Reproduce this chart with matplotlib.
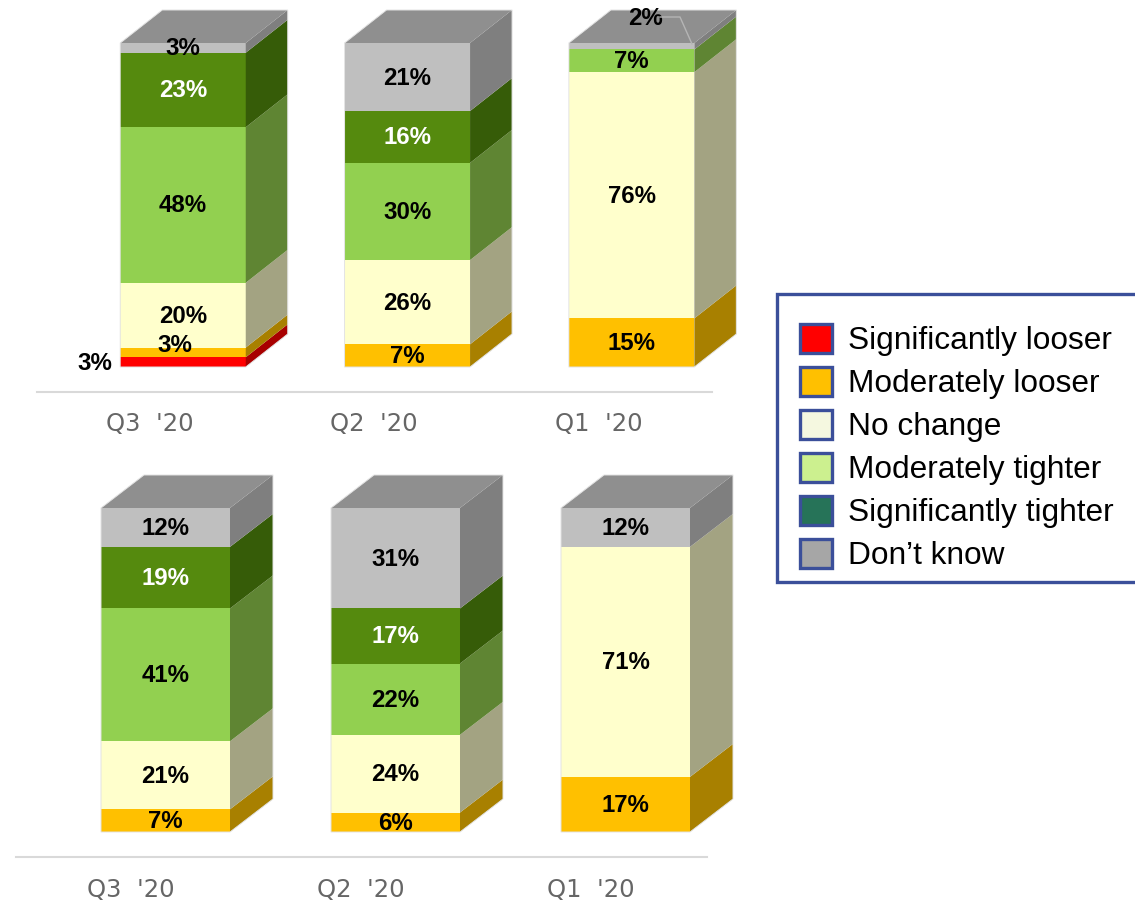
import matplotlib
matplotlib.use('Agg')
import matplotlib.pyplot as plt
from matplotlib.patches import Patch, Rectangle
from matplotlib.lines import Line2D

W, H = 1135, 902

quarters = ["Q3  '20", "Q2  '20", "Q1  '20"]
segments = ['Significantly looser', 'Moderately looser', 'No change',
            'Moderately tighter', 'Significantly tighter', "Don\u2019t know"]

# values bottom to top, one list per bar
top_q3 = [3, 3, 20, 48, 23, 3]
top_q2 = [0, 7, 26, 30, 16, 21]
top_q1 = [0, 15, 76, 7, 0, 2]
bottom_q3 = [0, 7, 21, 41, 19, 12]
bottom_q2 = [0, 6, 24, 22, 17, 31]
bottom_q1 = [0, 17, 71, 0, 0, 12]

front_colors = ['#FF0000', '#FFC000', '#FFFFCC', '#92D050', '#558A0E', '#BFBFBF']
side_colors = ['#A80000', '#A88000', '#A3A382', '#5F8533', '#365C08', '#7F7F7F']
legend_colors = ['#FF0000', '#FFC000', '#F5F8E0', '#CCF08F', '#267358', '#A6A6A6']
text_colors = ['black', 'black', 'black', 'black', 'white', 'black']
roof_color = '#8F8F8F'
edge_blue = '#3B4F9A'

plt.rcParams['font.family'] = ['Liberation Sans', 'DejaVu Sans']

fig = plt.figure(figsize=(W / 100, H / 100), dpi=100)


def panel(left, right, base_y, first_center, step, bar_w, depth_x, line_y, tick_shift, bars, moved):
    scale = 3.24  # pixels per percent
    ax = fig.add_axes([left / W, (H - line_y) / H, (right - left) / W, line_y / H])
    ax.set_xlim((left - first_center) / step, (right - first_center) / step)
    ax.set_ylim(-(line_y - base_y) / scale, base_y / scale)
    ax.patch.set_alpha(0)
    w = bar_w / step
    dx = depth_x / step
    dy = 33 / scale
    for i, values in enumerate(bars):
        y0 = 0
        for k, v in enumerate(values):
            if v == 0:
                continue
            ax.bar(i, v, w, bottom=y0, color=front_colors[k], linewidth=0, zorder=2)
            r = i + w / 2
            ax.fill([r, r + dx, r + dx, r], [y0, y0 + dy, y0 + v + dy, y0 + v],
                    color=side_colors[k], linewidth=0, zorder=2, clip_on=False)
            tx, ty = moved.get((i, k), (0, 0))
            # labels sit 1.5 px above the segment middle
            ax.text(i + tx / step, y0 + v / 2 - (ty - 1.5) / scale, f'{v}%', color=text_colors[k],
                    ha='center', va='center_baseline', fontsize=17.3, fontweight='bold',
                    zorder=5, clip_on=False)
            y0 += v
        l = i - w / 2
        ax.fill([l, l + dx, l + w + dx, l + w], [y0, y0 + dy, y0 + dy, y0],
                color=roof_color, linewidth=0, zorder=3, clip_on=False)
        ax.fill([l, l + dx, l + w + dx, l + w + dx, l + w, l],
                [y0, y0 + dy, y0 + dy, dy, 0, 0],
                fill=False, edgecolor='#E3E3E3', linewidth=0.7, zorder=4, clip_on=False)
    for s in ['top', 'left', 'right']:
        ax.spines[s].set_visible(False)
    ax.spines['bottom'].set_color('#D9D9D9')
    ax.spines['bottom'].set_linewidth(1.5)
    ax.set_yticks([])
    ax.set_xticks([i - tick_shift / step for i in range(3)])
    ax.set_xticklabels(quarters, family='DejaVu Sans', fontsize=17.5, color='#666666')
    ax.tick_params(axis='x', length=0, pad=15)
    return ax


top_ax = panel(37, 712, 367, 183, 224.3, 125.5, 42, 391.5, 33,
               [top_q3, top_q2, top_q1],
               {(0, 0): (-88, 0), (0, 1): (-8, -8), (2, 5): (14, -29)})
panel(16, 707, 832, 165.5, 230, 129, 43, 857, 34.5,
      [bottom_q3, bottom_q2, bottom_q1], {})

# leader line of the 2% label, in pixels
fig.add_artist(Line2D([660 / W, 680 / W, 692 / W], [1 - 17 / H, 1 - 17 / H, 1 - 44 / H],
                      color='#B5B5B5', lw=1))

# legend box runs off the right edge
fig.add_artist(Rectangle((777 / W, 1 - 582 / H), 380 / W, 288 / H, transform=fig.transFigure,
                         facecolor='white', edgecolor=edge_blue, linewidth=2.4))
handles = [Patch(facecolor=c, edgecolor=edge_blue, linewidth=2.4) for c in legend_colors]
fig.legend(handles, segments, loc='upper left', bbox_to_anchor=(800 / W, 1 - 324 / H),
           frameon=False, borderpad=0, borderaxespad=0,
           handlelength=1.0, handleheight=1.05, handletextpad=0.5, labelspacing=0.33,
           prop={'family': 'Liberation Sans', 'size': 22.8})

fig.savefig('out.png', dpi=100)
